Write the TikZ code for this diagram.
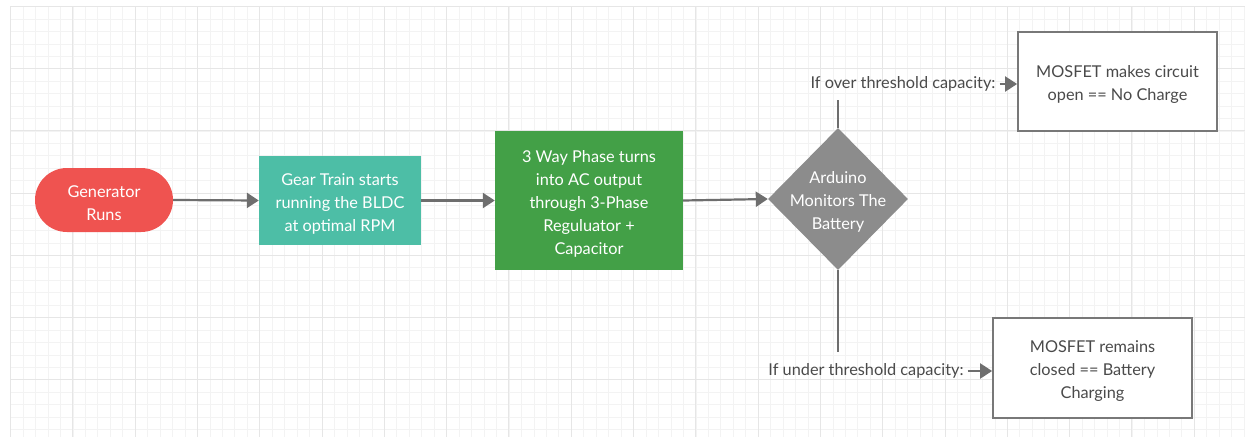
\documentclass[tikz,border=0pt]{standalone}
\usepackage{fontspec}
\setmainfont{Lato}
\usetikzlibrary{shapes.geometric,shapes.misc,arrows.meta}
\definecolor{genred}{HTML}{EF5350}
\definecolor{gearteal}{HTML}{4DBEA6}
\definecolor{phasegreen}{HTML}{43A047}
\definecolor{diagray}{HTML}{8C8C8C}
\definecolor{linegray}{HTML}{6E6E6E}
\definecolor{boxgray}{HTML}{787878}
\definecolor{txtgray}{HTML}{4A4A4A}
\definecolor{gridmaj}{HTML}{E6E6E6}
\definecolor{gridmin}{HTML}{F3F3F3}
\tikzset{
  basefont/.style={font=\fontsize{16.3}{23}\selectfont, align=center},
  whitetext/.style={basefont, text=white, yshift=-3pt},
  graytext/.style={basefont, text=txtgray, yshift=-3pt},
  startnode/.style={rounded rectangle, fill=genred, minimum width=138pt, minimum height=64pt, inner sep=0pt},
  procbox/.style={rectangle, inner sep=0pt},
  decnode/.style={diamond, fill=diagray, minimum width=140pt, minimum height=142pt, inner sep=0pt},
  outbox/.style={rectangle, draw=boxgray, line width=1.8pt, fill=white, inner sep=0pt},
  condlabel/.style={basefont, text=txtgray, inner sep=1pt},
  flow/.style={draw=linegray, line width=2.2pt, -{Triangle[length=12pt,width=15pt]}},
  plain/.style={draw=linegray, line width=2.2pt},
}
\begin{document}
\begin{tikzpicture}[x=1pt,y=-1pt]
\useasboundingbox (0,0) rectangle (1252,439);
\fill[white] (0,0) rectangle (1252,439);
% minor grid
\foreach \i in {0,...,99} {
  \pgfmathsetmacro\gx{10.5+12.46*\i}
  \ifdim\gx pt<1246pt \draw[gridmin, line width=0.6pt] (\gx,6) -- (\gx,437); \fi
}
\foreach \i in {0,...,34} {
  \pgfmathsetmacro\gy{6.5+12.44*\i}
  \ifdim\gy pt<437pt \draw[gridmin, line width=0.6pt] (10.5,\gy) -- (1245,\gy); \fi
}
% major grid
\foreach \i in {0,...,19} {
  \pgfmathsetmacro\gx{10.5+62.3*\i}
  \ifdim\gx pt<1246pt \draw[gridmaj, line width=1pt] (\gx,6) -- (\gx,437); \fi
}
\foreach \i in {0,...,6} {
  \pgfmathsetmacro\gy{6.5+62.2*\i}
  \ifdim\gy pt<437pt \draw[gridmaj, line width=1pt] (10.5,\gy) -- (1245,\gy); \fi
}
% nodes
\node[startnode, label={[whitetext]center:Generator\\Runs}] (gen) at (104,200) {};
\node[procbox, fill=gearteal, minimum width=162pt, minimum height=89pt,
  label={[whitetext]center:Gear Train starts\\running the BLDC\\at optimal RPM}] (gear) at (340,200.5) {};
\node[procbox, fill=phasegreen, minimum width=188pt, minimum height=139pt,
  label={[whitetext]center:3 Way Phase turns\\into AC output\\through 3-Phase\\Reguluator +\\Capacitor}] (phase) at (589,200.5) {};
\node[decnode, label={[whitetext]center:Arduino\\Monitors The\\Battery}] (dec) at (838,199) {};
\node[outbox, minimum width=199pt, minimum height=99pt,
  label={[graytext]center:MOSFET makes circuit\\open == No Charge}] (open) at (1117.5,81.5) {};
\node[outbox, minimum width=199pt, minimum height=100pt,
  label={[graytext]center:MOSFET remains\\closed == Battery\\Charging}] (closed) at (1092.5,368) {};
\node[condlabel] (over) at (903,84) {If over threshold capacity:};
\node[condlabel] (under) at (866,371) {If under threshold capacity:};
\coordinate (upend) at (838,100);
\coordinate (downend) at (838,352);
% connectors
\draw[flow] (gen.east) -- (gear.west);
\draw[flow] (gear.east) -- (phase.west);
\draw[flow] (phase.east) -- (dec.west);
\draw[plain] (dec.north) -- (upend);
\draw[plain] (dec.south) -- (downend);
\draw[flow] ([xshift=3pt]over.east) -- (over.east -| open.west);
\draw[flow] ([xshift=3pt]under.east) -- (under.east -| closed.west);
\end{tikzpicture}
\end{document}
